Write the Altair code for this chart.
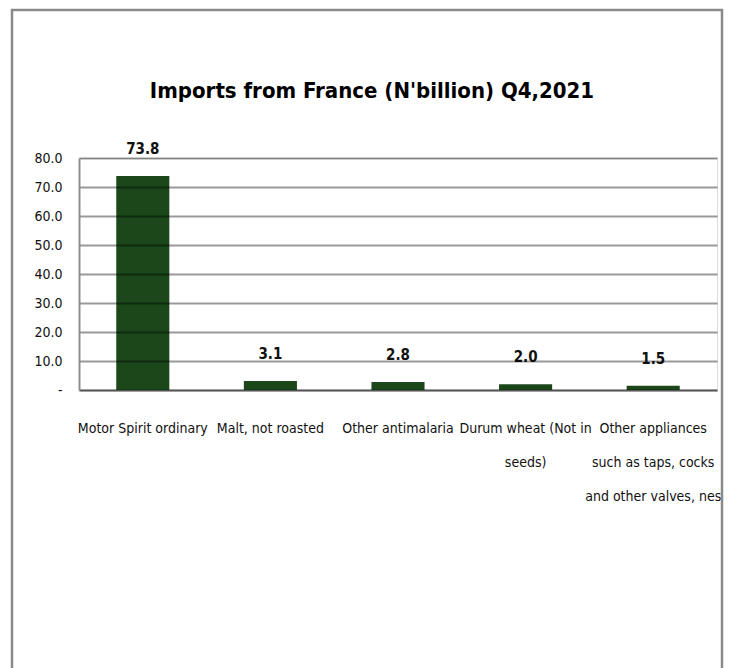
import altair as alt
import pandas as pd

# ---- data ----
products = [
    "Motor Spirit ordinary",
    "Malt, not roasted",
    "Other antimalaria",
    "Durum wheat (Not in seeds)",
    "Other appliances such as taps, cocks and other valves, nes",
]
label_lines = [
    "Motor Spirit ordinary",
    "Malt, not roasted",
    "Other antimalaria",
    "Durum wheat (Not in|seeds)",
    "Other appliances|such as taps, cocks|and other valves, nes",
]
values = [73.8, 3.1, 2.8, 2.0, 1.5]
y_ticks = [0, 10, 20, 30, 40, 50, 60, 70, 80]
title_text = "Imports from France (N'billion) Q4,2021"

df = pd.DataFrame({"product": products, "label": label_lines, "value": values})

FONT = "DejaVu Sans Condensed"
BAR = "#1b471b"

x_enc = alt.X(
    "label:N",
    sort=None,
    scale=alt.Scale(paddingInner=0.584, paddingOuter=0.292),
    axis=alt.Axis(
        title=None,
        labelAngle=0,
        labelExpr="split(datum.label, '|')",
        labelFont=FONT,
        labelFontSize=14,
        labelColor="#111111",
        labelLineHeight=34,
        labelPadding=31,
        labelLimit=0,
        labelOverlap=False,
        ticks=False,
        domainColor="#8f8f8f",
        domainWidth=2,
        grid=False,
    ),
)

y_enc = alt.Y(
    "value:Q",
    scale=alt.Scale(domain=[0, 80], nice=False),
    axis=alt.Axis(
        title=None,
        values=y_ticks,
        labelExpr="datum.value == 0 ? '-\u00a0' : format(datum.value, '.1f')",
        labelFont=FONT,
        labelFontSize=14,
        labelColor="#111111",
        labelPadding=17,
        labelOverlap=False,
        ticks=False,
        domainColor="#8f8f8f",
        domainWidth=2,
        gridColor="#000000",
        gridOpacity=0.4,
        gridWidth=2,
        zindex=1,
    ),
)

bars = alt.Chart(df).mark_bar(color=BAR).encode(x=x_enc, y=y_enc)

labels = alt.Chart(df).mark_text(
    font=FONT, fontSize=15, fontWeight="bold", color="#111111",
    baseline="alphabetic", dy=-22,
).encode(
    x=x_enc,
    y=y_enc,
    text=alt.Text("value:Q", format=".1f"),
)

one = pd.DataFrame({"t": [title_text]})

frame = alt.Chart(one).mark_rect(
    fill="transparent", stroke="#8a8a8a", strokeWidth=2.5
).encode(
    x=alt.value(-67), x2=alt.value(643), y=alt.value(-148), y2=alt.value(560)
)

title = alt.Chart(one).mark_text(
    font=FONT, fontSize=22, fontWeight="bold", color="#000000",
    align="center", baseline="alphabetic",
).encode(
    x=alt.value(293), y=alt.value(-60), text="t:N"
)

chart = alt.layer(frame, title, bars, labels).properties(
    width=638,
    height=232,
    autosize=alt.AutoSizeParams(type="none"),
    padding={"left": 71, "top": 150, "right": 7, "bottom": 290},
).configure_view(stroke=None).configure(background="white")

chart.save("out.html", embed_options={"renderer": "svg", "actions": False})
